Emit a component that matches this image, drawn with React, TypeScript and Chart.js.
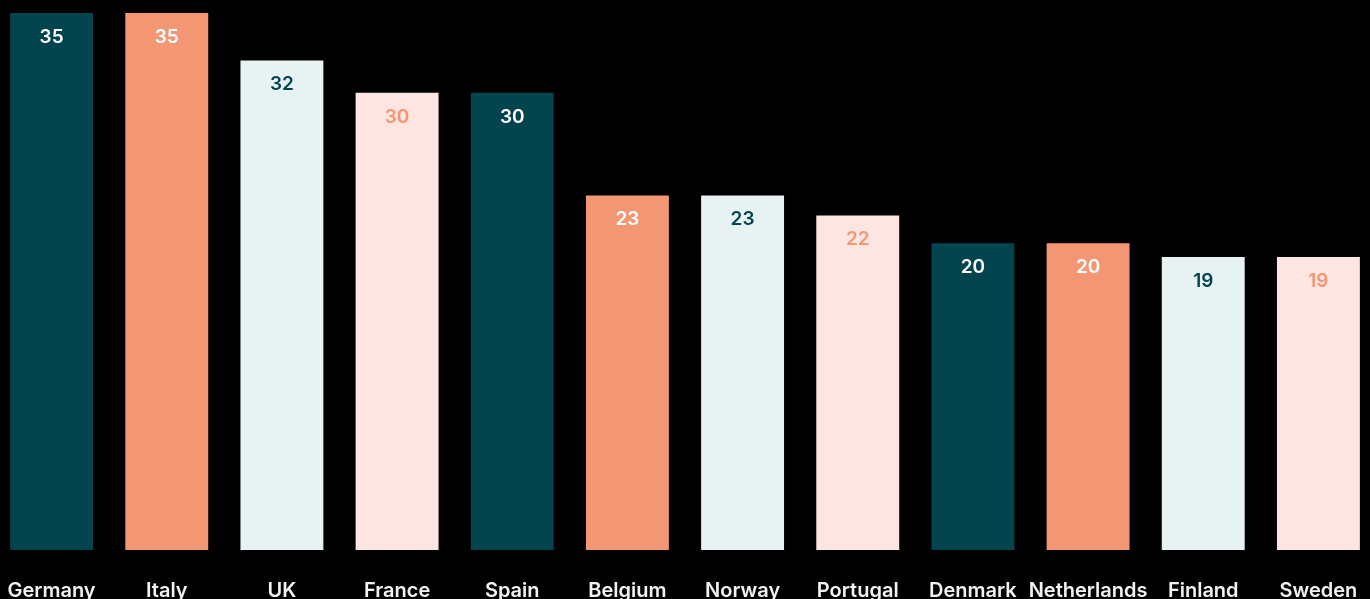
import React, { useEffect, useRef } from "react";
import { Chart, registerables } from "chart.js";

Chart.register(...registerables);

const countries = ["Germany", "Italy", "UK", "France", "Spain", "Belgium", "Norway", "Portugal", "Denmark", "Netherlands", "Finland", "Sweden"];
const values = [35, 35, 31.9, 29.8, 29.8, 23.1, 23.1, 21.8, 20, 20, 19.1, 19.1];
const barColors = ["#03444F", "#F29674", "#E7F3F2", "#FDE6E2", "#03444F", "#F29674", "#E7F3F2", "#FDE6E2", "#03444F", "#F29674", "#E7F3F2", "#FDE6E2"];
const labelColors = ["#FFFFFF", "#FFFFFF", "#03444F", "#F29674", "#FFFFFF", "#FFFFFF", "#03444F", "#F29674", "#FFFFFF", "#FFFFFF", "#03444F", "#F29674"];

const FONT = "Inter, 'Noto Sans', sans-serif";

const valueLabels = {
  id: "valueLabels",
  afterDatasetsDraw(chart: any) {
    const ctx = chart.ctx;
    const meta = chart.getDatasetMeta(0);
    ctx.save();
    ctx.font = `600 19px ${FONT}`;
    ctx.textAlign = "center";
    ctx.textBaseline = "middle";
    meta.data.forEach((bar: any, i: number) => {
      ctx.fillStyle = labelColors[i];
      ctx.fillText(String(Math.round(values[i])), bar.x, bar.y + 24);
    });
    ctx.restore();
  },
};

export default function App() {
  const ref = useRef<HTMLCanvasElement>(null);
  useEffect(() => {
    if (!ref.current) return;
    const chart = new Chart(ref.current, {
      type: "bar",
      data: {
        labels: countries,
        datasets: [
          {
            data: values,
            backgroundColor: barColors,
            borderWidth: 0,
            barPercentage: 0.72,
            categoryPercentage: 1,
          },
        ],
      },
      options: {
        animation: false,
        responsive: false,
        maintainAspectRatio: false,
        layout: { padding: { top: 13, left: 0, right: 0, bottom: 0 } },
        plugins: { legend: { display: false }, tooltip: { enabled: false } },
        scales: {
          x: {
            grid: { display: false, drawTicks: true, tickLength: 26 },
            border: { display: false },
            ticks: {
              color: "#F2F2F2",
              font: { family: FONT, size: 20, weight: "600" },
              padding: 3,
              maxRotation: 0,
              autoSkip: false,
            },
          },
          y: {
            display: false,
            min: 0,
            max: 35,
          },
        },
      },
      plugins: [valueLabels],
    });
    return () => chart.destroy();
  }, []);
  return (
    <div style={{ position: "fixed", left: -6, top: 0, width: 1382, height: 606, background: "#000" }}>
      <canvas ref={ref} width={1382} height={606} style={{ display: "block", width: 1382, height: 606 }} />
      <div style={{ position: "fixed", left: 0, top: 0, width: "100vw", height: "100vh", background: "#000", zIndex: -1 }} />
    </div>
  );
}
